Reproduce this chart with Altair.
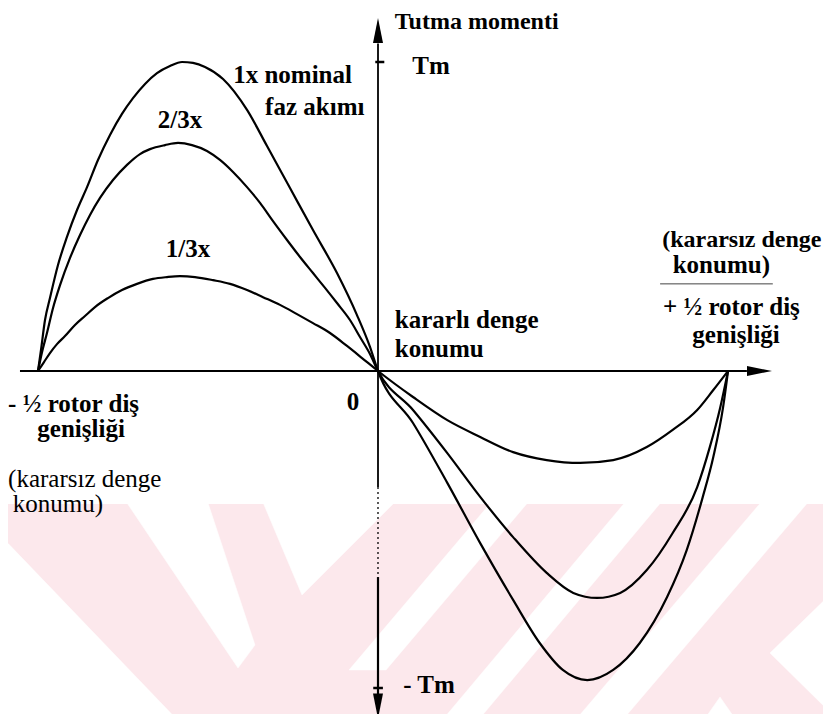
import altair as alt
import pandas as pd

# ---------------- data (x: rotor position in tooth widths, y: torque in units of Tm)
x_1x = [-0.5, -0.4956, -0.4897, -0.4824, -0.4706, -0.4574, -0.4426, -0.4279, -0.4118, -0.3941,
        -0.3765, -0.3603, -0.3426, -0.3250, -0.3059, -0.2882, -0.2721, -0.2544, -0.2279, -0.1926,
        -0.1632, -0.1294, -0.0956, -0.0603, -0.0309, -0.0118, 0.0,
        0.050, 0.099, 0.146, 0.193, 0.231, 0.264, 0.299, 0.336, 0.374, 0.413,
        0.441, 0.464, 0.479, 0.493, 0.5]
y_1x = [0, 0.068, 0.165, 0.236, 0.343, 0.434, 0.521, 0.595, 0.683, 0.764,
        0.832, 0.883, 0.929, 0.964, 0.987, 1.0, 0.997, 0.984, 0.945, 0.845,
        0.728, 0.592, 0.456, 0.317, 0.181, 0.078, 0,
        -0.164, -0.353, -0.543, -0.722, -0.858, -0.943, -0.975, -0.943, -0.858, -0.713,
        -0.565, -0.397, -0.271, -0.114, 0]

x_23 = [-0.5, -0.4941, -0.4868, -0.4779, -0.4676, -0.4529, -0.4382, -0.4235, -0.4088, -0.3897,
        -0.3691, -0.3500, -0.3353, -0.3132, -0.2941, -0.2735, -0.2515, -0.2324, -0.2132, -0.1926,
        -0.1735, -0.1544, -0.1338, -0.1147, -0.0956, -0.0779, -0.0603, -0.0412, -0.0265, -0.0118, 0.0,
        0.050, 0.099, 0.146, 0.193, 0.241, 0.279, 0.313, 0.346, 0.384, 0.421,
        0.456, 0.474, 0.489, 0.5]
y_23 = [0, 0.061, 0.123, 0.204, 0.278, 0.366, 0.440, 0.505, 0.560, 0.618,
        0.667, 0.702, 0.718, 0.731, 0.738, 0.731, 0.712, 0.683, 0.644, 0.595,
        0.544, 0.485, 0.424, 0.369, 0.317, 0.269, 0.220, 0.165, 0.110, 0.055, 0,
        -0.123, -0.259, -0.397, -0.524, -0.637, -0.700, -0.716, -0.700, -0.628, -0.511,
        -0.366, -0.240, -0.114, 0]

x_13 = [-0.5, -0.4912, -0.4824, -0.4721, -0.4603, -0.4456, -0.4309, -0.4162, -0.3971, -0.3765,
        -0.3544, -0.3309, -0.3103, -0.2912, -0.2691, -0.2426, -0.2176, -0.1926, -0.1691, -0.1441,
        -0.1191, -0.0956, -0.0706, -0.0456, -0.0235, 0.0,
        0.050, 0.099, 0.146, 0.193, 0.241, 0.289, 0.336, 0.384, 0.421, 0.456, 0.479, 0.5]
y_13 = [0, 0.029, 0.058, 0.087, 0.113, 0.149, 0.178, 0.207, 0.236, 0.262,
        0.282, 0.298, 0.304, 0.307, 0.304, 0.294, 0.282, 0.262, 0.239, 0.214,
        0.184, 0.155, 0.123, 0.081, 0.042, 0,
        -0.082, -0.155, -0.208, -0.256, -0.281, -0.290, -0.281, -0.240, -0.186, -0.123, -0.060, 0]

# text labels
bold_text = ["Tm", "1x nominal", "faz akımı", "2/3x", "1/3x",
             "kararlı denge", "konumu", "konumu)",
             "+ ½ rotor diş", "genişliği", "- ½ rotor diş", "genişliği", "0", "- Tm"]
bold_x = [0.049, -0.213, -0.166, -0.324, -0.312,
          0.024, 0.024, 0.421,
          0.407, 0.449, -0.544, -0.501, -0.046, 0.036]
bold_y = [0.961, 0.932, 0.828, 0.786, 0.369,
          0.139, 0.045, 0.317,
          0.181, 0.091, -0.129, -0.208, -0.123, -1.016]
small_bold_text = ["(kararsız denge", "Tutma momenti"]
small_bold_x = [0.406, 0.024]
small_bold_y = [0.401, 1.108]
reg_text = ["(kararsız denge", "konumu)"]
reg_x = [-0.544, -0.537]
reg_y = [-0.366, -0.445]

# axes (data units)
h_axis = [-0.5265, 0.527]        # horizontal axis extent at y = 0
v_axis_solid1 = [1.06, -0.366]
v_axis_dash = [-0.366, -0.650]
v_axis_solid2 = [-0.650, -1.022]

# watermark polygons (screen pixels)
wm_white = {
    "w1": [(0, 535), (0, 730), (187, 730)],
    "w2": [(125, 500), (207, 500), (255, 645), (238, 668)],
    "w3": [(262, 500), (397, 500), (302, 595)],
    "s1": [(493, 500), (530, 500), (386, 670), (349, 670)],
    "s2": [(627, 500), (663, 500), (470, 730), (434, 730)],
    "s3": [(763, 500), (810, 500), (614, 730), (567, 730)],
    "t1": [(697, 730), (720, 697), (743, 730)],
    "t2": [(840, 585), (770, 653), (840, 722)],
}

W, H = 815, 706
PINK = "#fce8ec"


def sx():
    return alt.Scale(domain=[-0.5, 0, 0.5], range=[30, 370, 720], nice=False, zero=False)


def sy():
    return alt.Scale(domain=[-1, 0, 1], range=[680, 363, 54], nice=False, zero=False)


def px():
    return alt.Scale(domain=[8, 8 + W], range=[0, W], nice=False, zero=False)


def py():
    return alt.Scale(domain=[8, 8 + H], range=[0, H], nice=False, zero=False)


# ---------------- watermark
pink_df = pd.DataFrame({"x": [0], "x2": [840], "y": [504], "y2": [730]})
pink = alt.Chart(pink_df).mark_rect(color=PINK, clip=True).encode(
    x=alt.X("x:Q", scale=px(), axis=None), x2="x2:Q",
    y=alt.Y("y:Q", scale=py(), axis=None), y2="y2:Q")

rows = []
for k, pts in wm_white.items():
    for i, (a, b) in enumerate(pts + [pts[0]]):
        rows.append({"poly": k, "i": i, "x": a, "y": b})
wm_df = pd.DataFrame(rows)
white = alt.Chart(wm_df).mark_line(fill="white", stroke="white", strokeWidth=0.5, clip=True).encode(
    x=alt.X("x:Q", scale=px(), axis=None),
    y=alt.Y("y:Q", scale=py(), axis=None),
    detail="poly:N", order="i:Q")

# ---------------- curves
rows = []
for name, xs, ys in [("1x", x_1x, y_1x), ("2/3x", x_23, y_23), ("1/3x", x_13, y_13)]:
    for a, b in zip(xs, ys):
        rows.append({"series": name, "x": a, "y": b})
cdf = pd.DataFrame(rows)
curves = alt.Chart(cdf).mark_line(color="black", strokeWidth=2.2, interpolate="monotone").encode(
    x=alt.X("x:Q", scale=sx(), axis=None),
    y=alt.Y("y:Q", scale=sy(), axis=None),
    detail="series:N")


# ---------------- axes
def hrule(x1, x2, y, width=2.0, color="black", dash=None):
    d = pd.DataFrame({"x": [x1], "x2": [x2], "y": [y]})
    kw = dict(color=color, strokeWidth=width)
    if dash:
        kw["strokeDash"] = dash
    return alt.Chart(d).mark_rule(**kw).encode(
        x=alt.X("x:Q", scale=sx(), axis=None), x2="x2:Q",
        y=alt.Y("y:Q", scale=sy(), axis=None))


def vrule(x, y1, y2, width=2.0, color="black", dash=None):
    d = pd.DataFrame({"x": [x], "y": [y1], "y2": [y2]})
    kw = dict(color=color, strokeWidth=width)
    if dash:
        kw["strokeDash"] = dash
    return alt.Chart(d).mark_rule(**kw).encode(
        x=alt.X("x:Q", scale=sx(), axis=None),
        y=alt.Y("y:Q", scale=sy(), axis=None), y2="y2:Q")


def arrow(x, y, shape):
    d = pd.DataFrame({"x": [x], "y": [y]})
    return alt.Chart(d).mark_point(shape=shape, filled=True, size=625, color="black",
                                   opacity=1, strokeWidth=0).encode(
        x=alt.X("x:Q", scale=sx(), axis=None),
        y=alt.Y("y:Q", scale=sy(), axis=None))


axes = [
    hrule(h_axis[0], h_axis[1], 0, 2.2),
    vrule(0, v_axis_solid1[0], v_axis_solid1[1], 1.8),
    vrule(0, v_axis_dash[0], v_axis_dash[1], 1.3, dash=[2, 3]),
    vrule(0, v_axis_solid2[0], v_axis_solid2[1], 2.2),
    hrule(-0.004, 0.009, 1.0, 2.5),        # Tm tick
    hrule(-0.007, 0.007, -1.0, 2.5),       # -Tm tick
    hrule(0.403, 0.564, 0.282, 1.0, color="#444"),  # line under right label
    arrow(0.545, 0, "M1,0L-1,-0.4L-1,0.4Z"),
    arrow(0, 1.102, "M0,-1L0.4,1L-0.4,1Z"),
    arrow(0, -1.057, "M0,1L-0.4,-1L0.4,-1Z"),
]


# ---------------- labels
def texts(xs, ys, ts, size, weight):
    d = pd.DataFrame({"x": xs, "y": ys, "t": ts})
    return alt.Chart(d).mark_text(align="left", baseline="alphabetic", font="Liberation Serif",
                                  fontSize=size, fontWeight=weight, color="black").encode(
        x=alt.X("x:Q", scale=sx(), axis=None), y=alt.Y("y:Q", scale=sy(), axis=None), text="t:N")


btxt = texts(bold_x, bold_y, bold_text, 25, "bold")
sbtxt = texts(small_bold_x, small_bold_y, small_bold_text, 24, "bold")
rtxt = texts(reg_x, reg_y, reg_text, 25, "normal")

chart = alt.layer(pink, white, curves, *axes, btxt, sbtxt, rtxt).resolve_scale(
    x="independent", y="independent"
).properties(
    width=W, height=H, padding=0, autosize=alt.AutoSizeParams(type="none")
).configure_view(stroke=None)

chart.save("out.html", embed_options={"renderer": "svg", "actions": False})
